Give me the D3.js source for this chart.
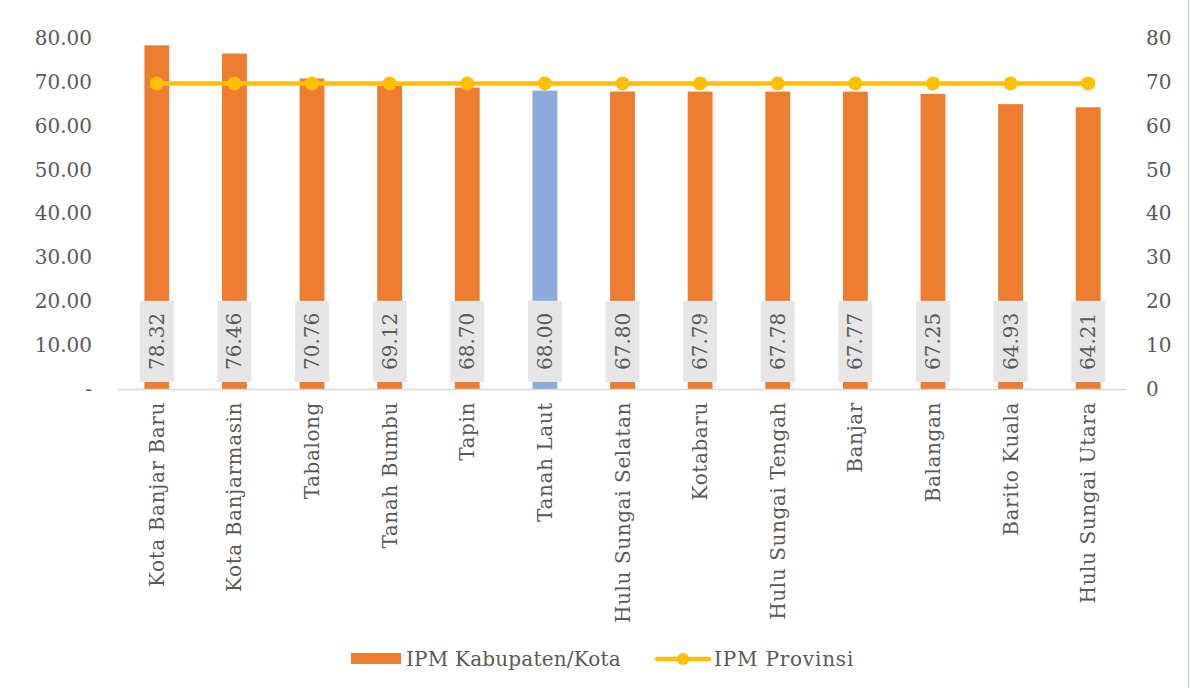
<!DOCTYPE html>
<html>
<head>
<meta charset="utf-8">
<script src="https://cdn.jsdelivr.net/npm/d3@7"></script>
<style>
  body { margin: 0; background: #fff; }
  text { font-family: "DejaVu Serif", "Liberation Serif", serif; fill: #595959; }
</style>
</head>
<body>
<div id="chart"></div>
<script>
// Data
var regions = ["Kota Banjar Baru", "Kota Banjarmasin", "Tabalong", "Tanah Bumbu", "Tapin",
    "Tanah Laut", "Hulu Sungai Selatan", "Kotabaru", "Hulu Sungai Tengah", "Banjar",
    "Balangan", "Barito Kuala", "Hulu Sungai Utara"];
var ipmKab = [78.32, 76.46, 70.76, 69.12, 68.70, 68.00, 67.80, 67.79, 67.78, 67.77, 67.25, 64.93, 64.21];
var ipmProv = [69.65, 69.65, 69.65, 69.65, 69.65, 69.65, 69.65, 69.65, 69.65, 69.65, 69.65, 69.65, 69.65];
var highlight = "Tanah Laut";
var leftTicks = [0, 10, 20, 30, 40, 50, 60, 70, 80];
var rightTicks = [0, 10, 20, 30, 40, 50, 60, 70, 80];
var seriesNames = ["IPM Kabupaten/Kota", "IPM Provinsi"];

var W = 1190, H = 688;
var margin = { top: 38, right: 63, bottom: 299, left: 118 };
var width = W - margin.left - margin.right;
var height = H - margin.top - margin.bottom;
var fs = "20px";

var svg = d3.select("#chart").append("svg")
    .attr("width", W)
    .attr("height", H);

// frame border on the right edge
svg.append("line")
    .attr("x1", W - 1.5).attr("x2", W - 1.5)
    .attr("y1", 0).attr("y2", H)
    .attr("stroke", "#b4c7e7").attr("stroke-width", 1);

var g = svg.append("g")
    .attr("transform", "translate(" + margin.left + "," + margin.top + ")");

var x = d3.scaleBand().domain(regions).range([0, width]).paddingInner(0.68).paddingOuter(0.34);
var y = d3.scaleLinear().domain([0, 80]).range([height, 0]);
var y2 = d3.scaleLinear().domain([0, 80]).range([height, 0]);

// Left axis
var yAxis = d3.axisLeft(y).tickValues(leftTicks).tickSize(0).tickPadding(26)
    .tickFormat(function (d) { return d === 0 ? "-" : d3.format(".2f")(d); });
g.append("g").attr("class", "y-axis").call(yAxis)
    .call(function (s) { s.select(".domain").remove(); })
    .selectAll("text").style("font-size", fs);

// Right axis
var yAxisR = d3.axisRight(y2).tickValues(rightTicks).tickSize(0).tickPadding(19);
g.append("g").attr("class", "y-axis-r")
    .attr("transform", "translate(" + width + ",0)")
    .call(yAxisR)
    .call(function (s) { s.select(".domain").remove(); })
    .selectAll("text").style("font-size", fs);

g.selectAll(".tick text").attr("fill", null);
g.selectAll(".y-axis, .y-axis-r").attr("font-family", null);

// Bars
g.selectAll(".bar").data(regions).enter().append("rect")
    .attr("class", "bar")
    .attr("x", function (d) { return x(d); })
    .attr("width", x.bandwidth())
    .attr("y", function (d, i) { return y(ipmKab[i]); })
    .attr("height", function (d, i) { return height - y(ipmKab[i]); })
    .attr("fill", function (d) { return d === highlight ? "#8faadc" : "#ed7d31"; });

// Baseline
g.append("line")
    .attr("x1", 0).attr("x2", width)
    .attr("y1", height + 0.5).attr("y2", height + 0.5)
    .attr("stroke", "#d9d9d9").attr("stroke-width", 1.5);

// Value labels in grey boxes
var boxW = 34, boxTop = y(20.1), boxBottom = y(1.6);
var lab = g.selectAll(".vlab").data(regions).enter().append("g")
    .attr("class", "vlab")
    .attr("transform", function (d) { return "translate(" + (x(d) + x.bandwidth() / 2) + ",0)"; });
lab.append("rect")
    .attr("x", -boxW / 2).attr("width", boxW)
    .attr("y", boxTop).attr("height", boxBottom - boxTop)
    .attr("fill", "#e7e6e6");
lab.append("text")
    .attr("transform", "translate(7," + ((boxTop + boxBottom) / 2) + ") rotate(-90)")
    .attr("text-anchor", "middle")
    .style("font-size", fs)
    .text(function (d, i) { return ipmKab[i].toFixed(2); });

// Province line
var line = d3.line()
    .x(function (d, i) { return x(regions[i]) + x.bandwidth() / 2; })
    .y(function (d) { return y2(d); });
g.append("path")
    .attr("d", line(ipmProv))
    .attr("fill", "none")
    .attr("stroke", "#ffc000")
    .attr("stroke-width", 4.5);
g.selectAll(".dot").data(ipmProv).enter().append("circle")
    .attr("class", "dot")
    .attr("cx", function (d, i) { return x(regions[i]) + x.bandwidth() / 2; })
    .attr("cy", function (d) { return y2(d); })
    .attr("r", 7)
    .attr("fill", "#ffc000");

// Category labels
g.selectAll(".xlab").data(regions).enter().append("text")
    .attr("class", "xlab")
    .attr("transform", function (d) {
        return "translate(" + (x(d) + x.bandwidth() / 2 + 7) + "," + (height + 13) + ") rotate(-90)";
    })
    .attr("text-anchor", "end")
    .style("font-size", fs)
    .style("letter-spacing", "0.6px")
    .text(function (d) { return d; });

// Legend
var leg = svg.append("g").attr("transform", "translate(0,659)");
leg.append("rect").attr("x", 351).attr("y", -6).attr("width", 50).attr("height", 11).attr("fill", "#ed7d31");
leg.append("text").attr("x", 406).attr("y", 7).style("font-size", fs).style("letter-spacing", "0.2px").text(seriesNames[0]);
leg.append("line").attr("x1", 657).attr("x2", 709).attr("y1", 0).attr("y2", 0)
    .attr("stroke", "#ffc000").attr("stroke-width", 4.5).attr("stroke-linecap", "round");
leg.append("circle").attr("cx", 683).attr("cy", 0).attr("r", 6).attr("fill", "#ffc000");
leg.append("text").attr("x", 714).attr("y", 7).style("font-size", fs).style("letter-spacing", "0.8px").text(seriesNames[1]);
</script>
</body>
</html>
